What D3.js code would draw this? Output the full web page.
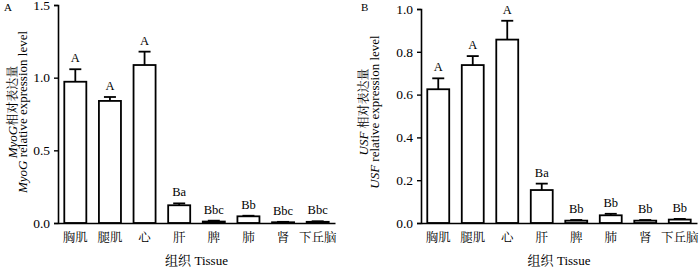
<!DOCTYPE html>
<html><head><meta charset="utf-8">
<script src="https://cdn.jsdelivr.net/npm/d3@7"></script>
<style>
body{margin:0;background:#fff;}
svg{display:block;font-family:"Liberation Serif","Times New Roman","Noto Serif CJK SC","Noto Sans CJK SC",serif;}
</style></head><body>
<svg id="c" width="700" height="277"></svg>
<script>
const tissues = ["胸肌","腿肌","心","肝","脾","肺","肾","下丘脑"];
const myogMean = [0.972, 0.840, 1.087, 0.122, 0.010, 0.046, 0.005, 0.008];
const myogErr  = [0.086, 0.027, 0.092, 0.013, 0.006, 0.004, 0.003, 0.004];
const myogSig  = ["A","A","A","Ba","Bbc","Bb","Bbc","Bbc"];
const myogTicks = [0, 0.5, 1.0, 1.5];
const usfMean = [0.625, 0.738, 0.857, 0.154, 0.011, 0.036, 0.011, 0.016];
const usfErr  = [0.051, 0.042, 0.088, 0.030, 0.003, 0.007, 0.003, 0.003];
const usfSig  = ["A","A","A","Ba","Bb","Bb","Bb","Bb"];
const usfTicks = [0, 0.2, 0.4, 0.6, 0.8, 1.0];

const svg = d3.select("#c");

function panel(o){
  const g = svg.append("g");
  const x = d3.scaleBand().domain(tissues).range([o.x0, o.x1]).paddingInner(0.306).paddingOuter(0.153);
  const y = d3.scaleLinear().domain([0, o.ymax]).range([223, o.ytop]);
  // bars
  const bw = x.bandwidth();
  g.selectAll("rect.bar").data(o.mean).join("rect")
    .attr("x", (d,i)=>x(tissues[i])+1)
    .attr("y", d=>y(d))
    .attr("width", bw-2)
    .attr("height", d=>Math.max(0, y(0)-y(d)))
    .attr("fill","#fff").attr("stroke","#000").attr("stroke-width",1.8);
  // error bars
  const cap = 12;
  o.mean.forEach((m,i)=>{
    const cx = x(tissues[i]) + bw/2;
    const top = y(m + o.err[i]);
    g.append("line").attr("x1",cx).attr("x2",cx).attr("y1",y(m)).attr("y2",top)
      .attr("stroke","#000").attr("stroke-width",1.8);
    g.append("line").attr("x1",cx-cap/2).attr("x2",cx+cap/2).attr("y1",top).attr("y2",top)
      .attr("stroke","#000").attr("stroke-width",1.8);
    g.append("text").attr("x",cx).attr("y",top-7).attr("text-anchor","middle")
      .attr("font-size",12.5).text(o.sig[i]);
  });
  // y axis
  const ya = g.append("g").attr("transform",`translate(${o.x0},0)`)
    .call(d3.axisLeft(y).tickValues(o.ticks).tickFormat(d3.format(".1f")).tickSizeOuter(0).tickSize(4).tickPadding(4));
  ya.select(".domain").attr("stroke-width",1.6);
  ya.selectAll(".tick line").attr("stroke-width",1.4);
  ya.selectAll(".tick text").attr("font-size",13.5).attr("font-family","Liberation Serif, serif").attr("fill","#000");
  // x axis
  const xa = g.append("g").attr("transform","translate(0,223)")
    .call(d3.axisBottom(x).tickSize(0).tickPadding(10));
  xa.select(".domain").attr("stroke-width",1.6);
  xa.selectAll(".tick text").attr("font-size",12.5).attr("font-family","Noto Serif CJK SC, Noto Sans CJK SC, serif").attr("fill","#000");
  // x title
  g.append("text").attr("x",(o.x0+o.x1)/2).attr("y",265).attr("text-anchor","middle")
    .attr("font-size",13)
    .call(t=>{t.append("tspan").attr("font-family","Noto Serif CJK SC, Noto Sans CJK SC, serif").text("组织 ");
              t.append("tspan").text("Tissue");});
  // y titles
  const cy = 112;
  const t1 = g.append("text").attr("transform",`translate(${o.l1},${cy}) rotate(-90)`).attr("text-anchor","middle").attr("font-size",13);
  t1.append("tspan").attr("font-style","italic").text(o.gene);
  t1.append("tspan").attr("font-family","Noto Serif CJK SC, Noto Sans CJK SC, serif").attr("font-size",12).text(o.gap+"相对表达量");
  const t2 = g.append("text").attr("transform",`translate(${o.l2},${cy}) rotate(-90)`).attr("text-anchor","middle").attr("font-size",13);
  t2.append("tspan").attr("font-style","italic").text(o.gene);
  t2.append("tspan").text(" relative expression level");
  // panel letter
  g.append("text").attr("x",o.lx).attr("y",11).attr("font-size",11).text(o.letter);
}

panel({x0:58, x1:335, ymax:1.5, ytop:5, mean:myogMean, err:myogErr, sig:myogSig, ticks:myogTicks,
       gene:"MyoG", gap:"", l1:17, l2:27, lx:4, letter:"A"});
panel({x0:421, x1:697, ymax:1.0, ytop:9, mean:usfMean, err:usfErr, sig:usfSig, ticks:usfTicks,
       gene:"USF", gap:" ", l1:368, l2:379, lx:361, letter:"B"});
</script>
</body></html>
